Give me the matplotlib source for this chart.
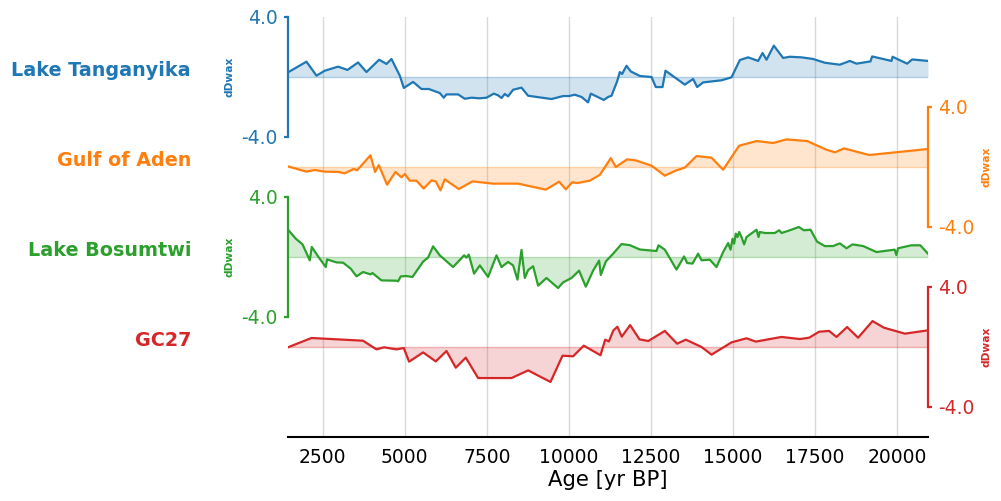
import matplotlib
matplotlib.use("Agg")
import matplotlib.pyplot as plt
import numpy as np

names = ["Lake Tanganyika", "Gulf of Aden", "Lake Bosumtwi", "GC27"]
colors = ["#1f77b4", "#ff7f0e", "#2ca02c", "#d62728"]
ylabel = "dDwax"
xlabel = "Age [yr BP]"
xticks = [2500, 5000, 7500, 10000, 12500, 15000, 17500, 20000]

tang_age = [1440, 2003, 2308, 2561, 2967, 3253, 3577, 3832, 4217, 4442, 4594, 4848, 4970, 5254,
            5509, 5732, 6067, 6189, 6271, 6625, 6829, 7034, 7287, 7491, 7713, 7845, 7949, 8049,
            8150, 8302, 8558, 8760, 9116, 9473, 9826, 10009, 10183, 10387, 10588, 10671, 11067,
            11200, 11302, 11473, 11555, 11625, 11759, 11890, 12165, 12521, 12652, 12857, 12948,
            13537, 13790, 13912, 14095, 14656, 14961, 15214, 15467, 15772, 15906, 16028, 16250,
            16534, 16738, 17095, 17448, 17805, 18262, 18567, 18771, 19198, 19247, 19838, 19869,
            20314, 20467, 20950]
tang_val = [0.31, 1.02, 0.09, 0.42, 0.69, 0.47, 0.97, 0.33, 1.15, 0.87, 1.2, 0.09, -0.73, -0.33,
            -0.8, -0.8, -1.07, -1.38, -1.16, -1.16, -1.45, -1.38, -1.42, -1.38, -1.11, -1.22, -1.4, -1.13,
            -1.29, -0.85, -0.71, -1.25, -1.36, -1.47, -1.27, -1.27, -1.18, -1.33, -1.69, -1.11, -1.53,
            -1.33, -1.25, -0.29, 0.33, 0.2, 0.75, 0.37, 0.07, 0.0, -0.67, -0.67, 0.42,
            -0.51, -0.13, -0.67, -0.36, -0.22, -0.02, 1.13, 1.31, 1.07, 1.6, 1.15, 2.09,
            1.27, 1.35, 1.31, 1.2, 0.95, 0.82, 1.07, 0.89, 1.04, 1.37, 1.07, 1.35,
            0.89, 1.17, 1.07]

aden_age = [1440, 2003, 2256, 2561, 2967, 3171, 3445, 3546, 3954, 4095, 4207, 4460, 4716, 4899,
            5000, 5152, 5356, 5579, 5814, 5945, 6088, 6219, 6646, 7064, 7692, 8454, 9299, 9704,
            9909, 10101, 10265, 10640, 10945, 11280, 11433, 11778, 12043, 12521, 12927, 13262,
            13537, 13893, 14351, 14705, 15193, 15723, 16230, 16637, 17265, 17857, 18119, 18393,
            19156, 20950]
aden_val = [0.04, -0.31, -0.2, -0.31, -0.33, -0.42, -0.13, -0.22, 0.78, -0.33, 0.13, -1.18, -0.33, -0.69,
            -0.47, -0.91, -0.91, -1.44, -0.89, -0.96, -1.56, -0.82, -1.47, -0.96, -1.11, -1.11, -1.51, -0.98,
            -1.49, -1.02, -1.07, -0.91, -0.53, 0.59, 0.0, 0.51, 0.44, 0.09, -0.58, -0.24,
            -0.04, 0.73, 0.62, -0.18, 1.42, 1.73, 1.6, 1.84, 1.73, 1.15, 0.98, 1.24,
            0.8, 1.2]

bos_age = [1440, 1677, 1881, 2104, 2165, 2357, 2591, 2631, 2918, 3120, 3354, 3527, 3729, 3954,
           4015, 4290, 4747, 4796, 4878, 5052, 5235, 5558, 5710, 5863, 6067, 6473, 6808, 6881,
           6951, 7113, 7287, 7540, 7796, 7948, 8150, 8302, 8436, 8558, 8659, 8760, 8913, 9065,
           9320, 9674, 9826, 10082, 10314, 10518, 10741, 10924, 10976, 11128, 11351, 11607, 11860,
           12165, 12674, 12735, 12927, 13283, 13515, 13607, 13771, 13942, 14046, 14299, 14503,
           14705, 14858, 14931, 14991, 15040, 15091, 15143, 15193, 15265, 15345, 15418, 15723,
           15784, 15823, 15976, 16281, 16412, 16485, 16738, 17012, 17165, 17369, 17570, 17805,
           18058, 18262, 18466, 18649, 18972, 19379, 19935, 19986, 20036, 20442, 20716, 20950]
bos_val = [1.82, 1.22, 0.85, -0.22, 0.67, 0.04, -0.67, -0.16, -0.36, -0.38, -0.78, -1.29, -1.0, -1.16,
           -1.07, -1.56, -1.58, -1.62, -1.29, -1.27, -1.33, -0.31, -0.04, 0.71, 0.11, -0.67, 0.11, -0.04,
           0.16, -1.11, -0.56, -1.33, 0.11, -0.67, -0.33, -0.56, -1.51, 0.47, -1.4, -0.87, -0.62, -1.91,
           -1.4, -2.07, -1.69, -1.4, -0.91, -1.98, -0.91, -0.24, -1.2, -0.3, 0.22, 0.86, 0.79,
           0.5, 0.4, 0.78, 0.49, -0.84, 0.04, -0.4, -0.44, 0.22, -0.22, -0.18, -0.67,
           0.33, 0.93, 0.49, 1.22, 0.89, 1.56, 1.33, 1.67, 1.33, 0.84, 1.33, 1.82,
           1.33, 1.67, 1.6, 1.6, 1.78, 1.6, 1.78, 2.0, 1.78, 1.82, 1.02, 0.73,
           0.73, 0.91, 0.58, 0.84, 0.73, 0.33, 0.49, 0.13, 0.58, 0.78, 0.78, 0.22]

gc_age = [1440, 2155, 3729, 4137, 4369, 4747, 4970, 5131, 5558, 5945, 6271, 6555, 6860, 7235,
          8253, 8760, 9442, 9808, 10131, 10457, 10966, 11110, 11220, 11360, 11480, 11615, 11870,
          12155, 12421, 12927, 13302, 13567, 14046, 14351, 14961, 15418, 15701, 16485, 17043,
          17327, 17632, 17937, 18161, 18484, 18820, 19259, 19604, 20244, 20950]
gc_val = [-0.02, 0.6, 0.42, -0.16, -0.02, -0.16, -0.07, -0.98, -0.36, -0.96, -0.27, -1.38, -0.71, -2.07,
          -2.07, -1.56, -2.33, -0.58, -0.62, 0.09, -0.55, 0.49, 0.37, 1.11, 1.35, 0.69, 1.46,
          0.51, 0.4, 1.07, 0.22, 0.49, 0.0, -0.51, 0.31, 0.58, 0.36, 0.67, 0.53,
          0.62, 1.02, 1.07, 0.67, 1.33, 0.62, 1.73, 1.29, 0.89, 1.11]

ages = [tang_age, aden_age, bos_age, gc_age]
vals = [tang_val, aden_val, bos_val, gc_val]

W, H = 1001, 501
fig = plt.figure(figsize=(W / 100, H / 100), dpi=100)

x0, x1 = 288 / W, 928 / W
xmin, xmax = 1440, 20950

# background axis: grid + x axis
bg = fig.add_axes([x0, 1 - 437 / H, x1 - x0, (437 - 17) / H], zorder=0)
bg.set_xlim(xmin, xmax)
bg.set_xticks(xticks)
bg.set_yticks([])
for s in ["top", "left", "right"]:
    bg.spines[s].set_visible(False)
bg.spines["bottom"].set_linewidth(1.5)
bg.grid(axis="x", color="#d9d9d9", linewidth=1)
bg.tick_params(axis="x", labelsize=13.5, length=0, pad=8)
bg.set_xlabel(xlabel, fontsize=15.2, labelpad=2)
bg.patch.set_alpha(0)

tops = [17, 107, 197, 287]
for i, (name, c, a, v) in enumerate(zip(names, colors, ages, vals)):
    top = tops[i]
    ax = fig.add_axes([x0, 1 - (top + 120) / H, x1 - x0, 120 / H], zorder=1 + i)
    ax.patch.set_alpha(0)
    a = np.array(a)
    v = np.array(v)
    ax.plot(a, v, color=c, lw=1.6)
    ax.fill_between(a, v, 0, color=c, alpha=0.2, lw=0)
    ax.axhline(0, color=c, alpha=0.3, lw=1)
    ax.set_xlim(xmin, xmax)
    ax.set_ylim(-4, 4)
    ax.set_xticks([])
    ax.set_yticks([-4, 4])
    ax.set_yticklabels(["-4.0", "4.0"])
    ax.spines["top"].set_visible(False)
    ax.spines["bottom"].set_visible(False)
    side = "left" if i % 2 == 0 else "right"
    other = "right" if side == "left" else "left"
    ax.spines[other].set_visible(False)
    ax.spines[side].set_color(c)
    ax.spines[side].set_linewidth(1.6)
    ax.yaxis.set_ticks_position(side)
    ax.yaxis.set_label_position(side)
    ax.tick_params(axis="y", colors=c, labelsize=13.5, length=3, width=1.6, pad=4.5)
    ax.set_ylabel(ylabel, color=c, fontsize=7.7, fontweight="bold", labelpad=5)
    fig.text(191 / W, 1 - (top + 54) / H, name, color=c, fontsize=13.8,
             fontweight="bold", ha="right", va="center")

fig.savefig("out.png", dpi=100)
